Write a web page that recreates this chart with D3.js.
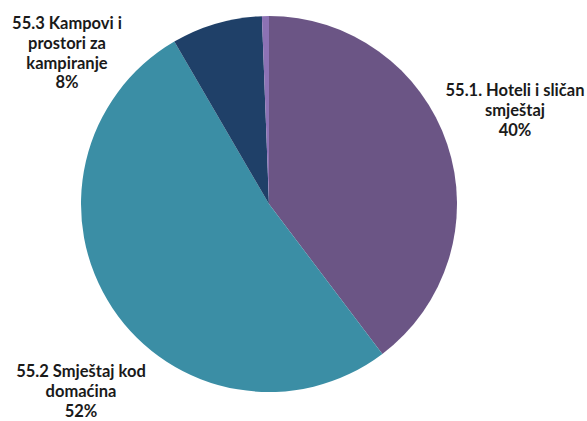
<!DOCTYPE html>
<html>
<head>
<meta charset="utf-8">
<script src="https://cdn.jsdelivr.net/npm/d3@7"></script>
<style>
  html, body { margin: 0; padding: 0; background: #fff; }
  svg { display: block; }
  text { font-family: Lato, "Open Sans", sans-serif; font-weight: 700; fill: #1a1a1a; }
</style>
</head>
<body>
<script>
// ---- data ----
const categories = [
  ["55.1. Hoteli i sličan", "smještaj"],
  ["55.2 Smještaj kod", "domaćina"],
  ["55.3 Kampovi i", "prostori za", "kampiranje"],
  ["Ostalo"]
];
const values = [39.7, 51.9, 7.8, 0.6];
const colors = ["#6b5585", "#3b8ea5", "#1f4068", "#8c72b4"];
const showLabel = [true, true, true, false];

// ---- layout ----
const W = 587, H = 421;
const cx = 269, cy = 204, R = 188;
const labelAnchors = [[515, 96], [81, 377], [67, 29]];
const lineH = 19.8;

const svg = d3.select("body").append("svg").attr("width", W).attr("height", H);

const pie = d3.pie().sort(null).value(d => d)(values);
const arc = d3.arc().innerRadius(0).outerRadius(R);

const g = svg.append("g").attr("transform", `translate(${cx},${cy})`);
g.selectAll("path").data(pie).join("path")
  .attr("d", arc)
  .attr("fill", (d, i) => colors[i]);

const total = d3.sum(values);
categories.forEach((lines, i) => {
  if (!showLabel[i]) return;
  const [x, y] = labelAnchors[i];
  const t = svg.append("text").attr("text-anchor", "middle").attr("font-size", 16.5);
  const all = lines.concat([Math.round(values[i] / total * 100) + "%"]);
  all.forEach((s, k) => {
    t.append("tspan").attr("x", x).attr("y", y + k * lineH).text(s);
  });
});
</script>
</body>
</html>
